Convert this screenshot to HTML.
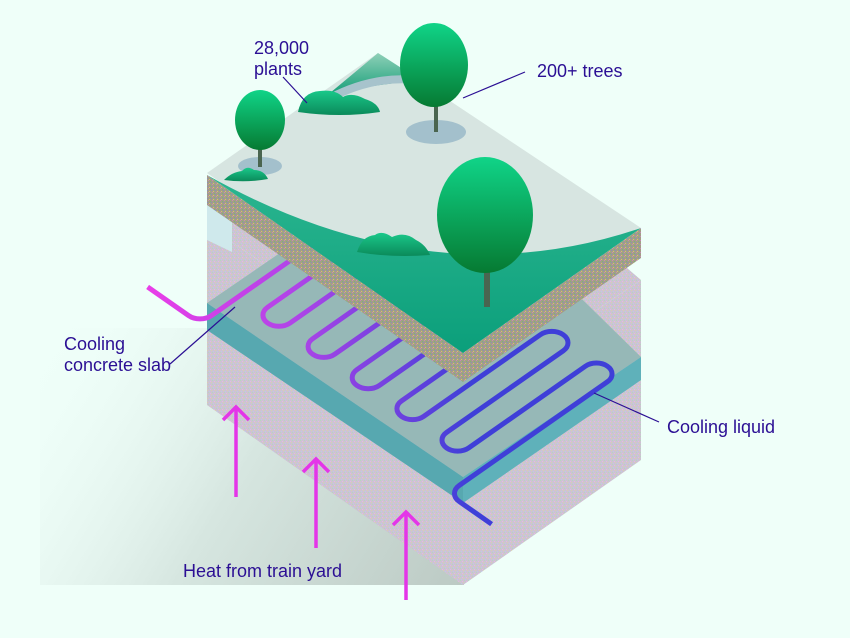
<!DOCTYPE html>
<html><head><meta charset="utf-8"><style>
html,body{margin:0;padding:0;background:#effff9;}
svg{display:block;}
text{font-family:"Liberation Sans",sans-serif;font-size:18px;fill:#2b0f94;}
</style></head><body>
<svg width="850" height="638" viewBox="0 0 850 638" xmlns="http://www.w3.org/2000/svg">
<defs>
<linearGradient id="sh" x1="40" y1="330" x2="463" y2="585" gradientUnits="userSpaceOnUse">
<stop offset="0" stop-color="#effff9" stop-opacity="0"/>
<stop offset="0.5" stop-color="#d6e6e0"/>
<stop offset="1" stop-color="#bccac4"/>
</linearGradient>
<linearGradient id="pipe" x1="-72" y1="-72" x2="123" y2="123" gradientUnits="userSpaceOnUse">
<stop offset="0" stop-color="#e83ee8"/>
<stop offset="0.45" stop-color="#b044e8"/>
<stop offset="1" stop-color="#3f3fd8"/>
</linearGradient>
<linearGradient id="gr" x1="0" y1="180" x2="0" y2="360" gradientUnits="userSpaceOnUse">
<stop offset="0" stop-color="#2ab58f"/>
<stop offset="1" stop-color="#0a9e7a"/>
</linearGradient>
<linearGradient id="tree" x1="0" y1="0" x2="0" y2="1">
<stop offset="0" stop-color="#10d488"/>
<stop offset="1" stop-color="#067a32"/>
</linearGradient>
<linearGradient id="hill" x1="0" y1="0" x2="0" y2="1">
<stop offset="0" stop-color="#8fd0b8"/>
<stop offset="1" stop-color="#1aa07a"/>
</linearGradient>
<linearGradient id="bush" x1="0" y1="0" x2="0" y2="1">
<stop offset="0" stop-color="#1ac88a"/>
<stop offset="1" stop-color="#0b8a5a"/>
</linearGradient>
<pattern id="lil" width="4" height="4" patternUnits="userSpaceOnUse">
<rect width="4" height="4" fill="#cdc3d2"/>
<rect width="1" height="1" fill="#b8d4c0"/><rect x="2" y="1" width="1" height="1" fill="#e4b8e4"/>
<rect x="1" y="3" width="1" height="1" fill="#c0c8e8"/><rect x="3" y="2" width="1" height="1" fill="#d8d0b0"/>
</pattern>
<pattern id="tx" width="4" height="4" patternUnits="userSpaceOnUse">
<rect width="4" height="4" fill="#a39f86"/>
<rect width="1" height="1" fill="#c88ab8"/><rect x="2" y="1" width="1" height="1" fill="#7fb07a"/>
<rect x="1" y="3" width="1" height="1" fill="#d8c070"/><rect x="3" y="2" width="1" height="1" fill="#8a8ac0"/>
</pattern>
</defs>

<rect x="40" y="328" width="424" height="257" fill="url(#sh)"/>

<polygon points="207,225 463,400 463,585 207,405" fill="url(#lil)"/>
<polygon points="463,400 641,280 641,460 463,585" fill="url(#lil)"/>
<polygon points="207,225 420,90 641,280 463,400" fill="url(#lil)"/>
<polygon points="207,200 232,200 232,252 207,240" fill="#cfe9ec"/>

<polygon points="207,303 430,150 641,357 463,477" fill="#96b8b7"/>
<polygon points="207,303 463,477 463,503 207,330" fill="#57a8b0"/>
<polygon points="463,477 641,357 641,380 463,503" fill="#5fb1ba"/>

<g transform="matrix(0.819,0.573,0.819,-0.573,268,323)">
<path vector-effect="non-scaling-stroke" fill="none" stroke="url(#pipe)" stroke-width="5"
d="M-105,-42 L-55,-42 A14,14 0 0 1 -41,-28 L-41,156 A13.5,13.5 0 0 0 -14,156
L-14,13.5 A13.5,13.5 0 0 1 13.5,13.5 L13.5,156 A13.75,13.75 0 0 0 41,156
L41,13.5 A13.5,13.5 0 0 1 68,13.5 L68,156 A13.5,13.5 0 0 0 95,156
L95,13.5 A13.75,13.75 0 0 1 122.5,13.5 L122.5,156 A13.5,13.5 0 0 0 149.5,156
L149.5,13.5 A13.5,13.5 0 0 1 176.5,13.5 L176.5,156 A14,14 0 0 0 204.5,156
L204.5,13.5 A13.5,13.5 0 0 1 231.5,13.5 L231.5,156 A13.5,13.5 0 0 0 258.5,156
L258.5,-25 A14,14 0 0 1 272.5,-39 L312,-39"/>
</g>

<polygon points="207,175 463,353 463,382 207,205" fill="url(#tx)"/>
<polygon points="463,353 641,228 641,258 463,382" fill="url(#tx)"/>
<polygon points="207,173 378,53 641,228 463,353" fill="#d7e5e1"/>
<path d="M207,175 Q430,300 641,228 L463,353 Z" fill="url(#gr)"/>
<polygon points="330,93 378,53 420,80 380,85" fill="url(#hill)"/>
<path d="M330,98 Q380,72 430,82" fill="none" stroke="#a7c3cc" stroke-width="8"/>

<ellipse cx="260" cy="166" rx="22" ry="9" fill="#a3c0cc"/>
<ellipse cx="436" cy="132" rx="30" ry="12" fill="#a3c0cc"/>

<path d="M298,112 Q302,92 320,91 Q335,89 343,97 Q352,92 365,99 Q378,103 380,112 Q340,118 298,112Z" fill="url(#bush)"/>
<path d="M224,180 Q232,172 242,171 Q247,165 254,170 Q264,170 268,179 Q246,183 224,180Z" fill="url(#bush)"/>
<path d="M357,252 Q362,236 375,235 Q382,230 392,237 Q405,231 416,240 Q426,245 430,255 Q392,258 357,252Z" fill="url(#bush)"/>

<rect x="258" y="140" width="4" height="27" fill="#4a6550"/>
<ellipse cx="260" cy="120" rx="25" ry="30" fill="url(#tree)"/>
<rect x="434" y="98" width="4" height="34" fill="#4a6550"/>
<ellipse cx="434" cy="65" rx="34" ry="42" fill="url(#tree)"/>
<rect x="484" y="255" width="6" height="52" fill="#4a6550"/>
<ellipse cx="485" cy="215" rx="48" ry="58" fill="url(#tree)"/>

<g stroke="#e435e8" stroke-width="3.5" fill="none">
<path d="M236,497 L236,408 M223,420 L236,407 L249,420"/>
<path d="M316,548 L316,460 M303,472 L316,459 L329,472"/>
<path d="M406,600 L406,513 M393,525 L406,512 L419,525"/>
</g>

<g stroke="#2b0f94" stroke-width="1.2">
<line x1="283" y1="77" x2="307" y2="103"/>
<line x1="525" y1="72" x2="463" y2="98"/>
<line x1="170" y1="364" x2="235" y2="307"/>
<line x1="594" y1="393" x2="659" y2="422"/>
</g>

<text x="254" y="54">28,000</text>
<text x="254" y="75">plants</text>
<text x="537" y="77">200+ trees</text>
<text x="64" y="350">Cooling</text>
<text x="64" y="371">concrete slab</text>
<text x="667" y="433">Cooling liquid</text>
<text x="183" y="577">Heat from train yard</text>
</svg>
</body></html>
